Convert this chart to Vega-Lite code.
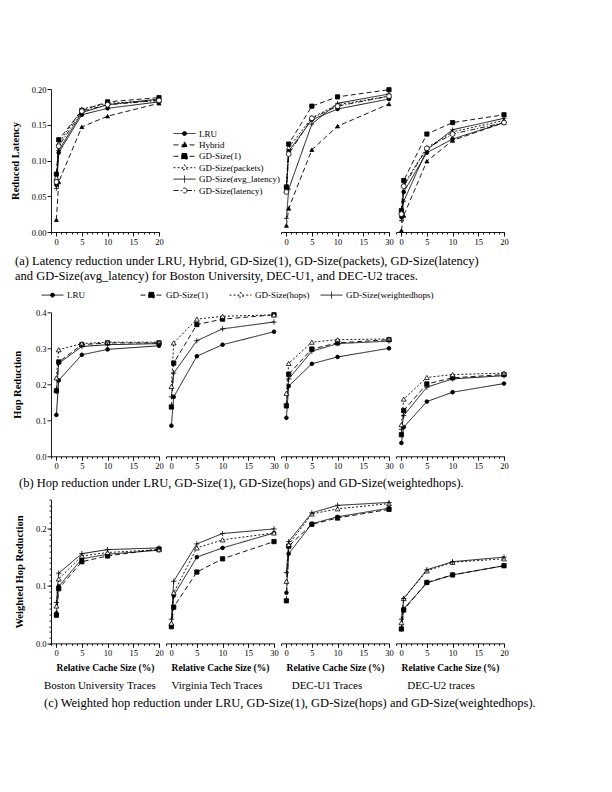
{
"$schema": "https://vega.github.io/schema/vega-lite/v6.json",
"background": "white",
"padding": {"left": 10, "top": 85, "right": 5, "bottom": 5},
"config": {
  "view": {"stroke": null},
  "font": "Liberation Serif",
  "axis": {"labelFont": "Liberation Serif", "labelFontSize": 8.5, "labelColor": "black", "titleFont": "Liberation Serif", "titleFontSize": 10.5, "titleFontWeight": "bold", "titleColor": "black", "domainColor": "black", "tickColor": "black", "domainWidth": 0.9, "tickWidth": 0.9, "labelPadding": 1, "grid": false, "labelFlush": false, "labelOverlap": false},
  "legend": {"labelFont": "Liberation Serif", "labelFontSize": 9, "labelColor": "black", "symbolStrokeWidth": 0.9, "symbolSize": 100, "labelOffset": 9, "padding": 0, "symbolOpacity": 1},
  "title": {"font": "Liberation Serif", "fontSize": 11, "fontWeight": "normal", "color": "black", "subtitleFont": "Liberation Serif", "subtitleFontSize": 12.5, "subtitleColor": "black"}
},
"datasets": {
"lat": [
{"trace":"BU","policy":"LRU","size":0.05,"value":0.066},{"trace":"BU","policy":"LRU","size":0.5,"value":0.111},{"trace":"BU","policy":"LRU","size":5,"value":0.164},{"trace":"BU","policy":"LRU","size":10,"value":0.173},{"trace":"BU","policy":"LRU","size":20,"value":0.182},
{"trace":"BU","policy":"Hybrid","size":0.05,"value":0.017},{"trace":"BU","policy":"Hybrid","size":0.5,"value":0.070},{"trace":"BU","policy":"Hybrid","size":5,"value":0.147},{"trace":"BU","policy":"Hybrid","size":10,"value":0.162},{"trace":"BU","policy":"Hybrid","size":20,"value":0.180},
{"trace":"BU","policy":"GD-Size(1)","size":0.05,"value":0.081},{"trace":"BU","policy":"GD-Size(1)","size":0.5,"value":0.129},{"trace":"BU","policy":"GD-Size(1)","size":5,"value":0.170},{"trace":"BU","policy":"GD-Size(1)","size":10,"value":0.182},{"trace":"BU","policy":"GD-Size(1)","size":20,"value":0.188},
{"trace":"BU","policy":"GD-Size(packets)","size":0.05,"value":0.076},{"trace":"BU","policy":"GD-Size(packets)","size":0.5,"value":0.124},{"trace":"BU","policy":"GD-Size(packets)","size":5,"value":0.172},{"trace":"BU","policy":"GD-Size(packets)","size":10,"value":0.180},{"trace":"BU","policy":"GD-Size(packets)","size":20,"value":0.184},
{"trace":"BU","policy":"GD-Size(avg_latency)","size":0.05,"value":0.061},{"trace":"BU","policy":"GD-Size(avg_latency)","size":0.5,"value":0.114},{"trace":"BU","policy":"GD-Size(avg_latency)","size":5,"value":0.167},{"trace":"BU","policy":"GD-Size(avg_latency)","size":10,"value":0.178},{"trace":"BU","policy":"GD-Size(avg_latency)","size":20,"value":0.186},
{"trace":"BU","policy":"GD-Size(latency)","size":0.05,"value":0.070},{"trace":"BU","policy":"GD-Size(latency)","size":0.5,"value":0.120},{"trace":"BU","policy":"GD-Size(latency)","size":5,"value":0.169},{"trace":"BU","policy":"GD-Size(latency)","size":10,"value":0.178},{"trace":"BU","policy":"GD-Size(latency)","size":20,"value":0.184},
{"trace":"U1","policy":"LRU","size":0.05,"value":0.061},{"trace":"U1","policy":"LRU","size":0.5,"value":0.113},{"trace":"U1","policy":"LRU","size":5,"value":0.157},{"trace":"U1","policy":"LRU","size":10,"value":0.172},{"trace":"U1","policy":"LRU","size":20,"value":0.186},
{"trace":"U1","policy":"Hybrid","size":0.05,"value":0.009},{"trace":"U1","policy":"Hybrid","size":0.5,"value":0.033},{"trace":"U1","policy":"Hybrid","size":5,"value":0.115},{"trace":"U1","policy":"Hybrid","size":10,"value":0.148},{"trace":"U1","policy":"Hybrid","size":20,"value":0.179},
{"trace":"U1","policy":"GD-Size(1)","size":0.05,"value":0.063},{"trace":"U1","policy":"GD-Size(1)","size":0.5,"value":0.123},{"trace":"U1","policy":"GD-Size(1)","size":5,"value":0.176},{"trace":"U1","policy":"GD-Size(1)","size":10,"value":0.189},{"trace":"U1","policy":"GD-Size(1)","size":20,"value":0.199},
{"trace":"U1","policy":"GD-Size(packets)","size":0.05,"value":0.058},{"trace":"U1","policy":"GD-Size(packets)","size":0.5,"value":0.118},{"trace":"U1","policy":"GD-Size(packets)","size":5,"value":0.160},{"trace":"U1","policy":"GD-Size(packets)","size":10,"value":0.178},{"trace":"U1","policy":"GD-Size(packets)","size":20,"value":0.190},
{"trace":"U1","policy":"GD-Size(avg_latency)","size":0.05,"value":0.019},{"trace":"U1","policy":"GD-Size(avg_latency)","size":0.5,"value":0.060},{"trace":"U1","policy":"GD-Size(avg_latency)","size":5,"value":0.151},{"trace":"U1","policy":"GD-Size(avg_latency)","size":10,"value":0.180},{"trace":"U1","policy":"GD-Size(avg_latency)","size":20,"value":0.193},
{"trace":"U1","policy":"GD-Size(latency)","size":0.05,"value":0.056},{"trace":"U1","policy":"GD-Size(latency)","size":0.5,"value":0.109},{"trace":"U1","policy":"GD-Size(latency)","size":5,"value":0.159},{"trace":"U1","policy":"GD-Size(latency)","size":10,"value":0.176},{"trace":"U1","policy":"GD-Size(latency)","size":20,"value":0.190},
{"trace":"U2","policy":"LRU","size":0.05,"value":0.021},{"trace":"U2","policy":"LRU","size":0.5,"value":0.056},{"trace":"U2","policy":"LRU","size":5,"value":0.111},{"trace":"U2","policy":"LRU","size":10,"value":0.130},{"trace":"U2","policy":"LRU","size":20,"value":0.153},
{"trace":"U2","policy":"Hybrid","size":0.05,"value":0.002},{"trace":"U2","policy":"Hybrid","size":0.5,"value":0.023},{"trace":"U2","policy":"Hybrid","size":5,"value":0.099},{"trace":"U2","policy":"Hybrid","size":10,"value":0.128},{"trace":"U2","policy":"Hybrid","size":20,"value":0.153},
{"trace":"U2","policy":"GD-Size(1)","size":0.05,"value":0.030},{"trace":"U2","policy":"GD-Size(1)","size":0.5,"value":0.072},{"trace":"U2","policy":"GD-Size(1)","size":5,"value":0.137},{"trace":"U2","policy":"GD-Size(1)","size":10,"value":0.153},{"trace":"U2","policy":"GD-Size(1)","size":20,"value":0.164},
{"trace":"U2","policy":"GD-Size(packets)","size":0.05,"value":0.028},{"trace":"U2","policy":"GD-Size(packets)","size":0.5,"value":0.066},{"trace":"U2","policy":"GD-Size(packets)","size":5,"value":0.118},{"trace":"U2","policy":"GD-Size(packets)","size":10,"value":0.140},{"trace":"U2","policy":"GD-Size(packets)","size":20,"value":0.156},
{"trace":"U2","policy":"GD-Size(avg_latency)","size":0.05,"value":0.016},{"trace":"U2","policy":"GD-Size(avg_latency)","size":0.5,"value":0.043},{"trace":"U2","policy":"GD-Size(avg_latency)","size":5,"value":0.115},{"trace":"U2","policy":"GD-Size(avg_latency)","size":10,"value":0.143},{"trace":"U2","policy":"GD-Size(avg_latency)","size":20,"value":0.159},
{"trace":"U2","policy":"GD-Size(latency)","size":0.05,"value":0.025},{"trace":"U2","policy":"GD-Size(latency)","size":0.5,"value":0.064},{"trace":"U2","policy":"GD-Size(latency)","size":5,"value":0.117},{"trace":"U2","policy":"GD-Size(latency)","size":10,"value":0.137},{"trace":"U2","policy":"GD-Size(latency)","size":20,"value":0.153}
],
"hop": [
{"trace":"BU","policy":"LRU","size":0.05,"value":0.115},{"trace":"BU","policy":"LRU","size":0.5,"value":0.211},{"trace":"BU","policy":"LRU","size":5,"value":0.282},{"trace":"BU","policy":"LRU","size":10,"value":0.297},{"trace":"BU","policy":"LRU","size":20,"value":0.307},
{"trace":"BU","policy":"GD-Size(1)","size":0.05,"value":0.182},{"trace":"BU","policy":"GD-Size(1)","size":0.5,"value":0.262},{"trace":"BU","policy":"GD-Size(1)","size":5,"value":0.310},{"trace":"BU","policy":"GD-Size(1)","size":10,"value":0.315},{"trace":"BU","policy":"GD-Size(1)","size":20,"value":0.315},
{"trace":"BU","policy":"GD-Size(hops)","size":0.05,"value":0.218},{"trace":"BU","policy":"GD-Size(hops)","size":0.5,"value":0.296},{"trace":"BU","policy":"GD-Size(hops)","size":5,"value":0.313},{"trace":"BU","policy":"GD-Size(hops)","size":10,"value":0.317},{"trace":"BU","policy":"GD-Size(hops)","size":20,"value":0.317},
{"trace":"BU","policy":"GD-Size(weightedhops)","size":0.05,"value":0.180},{"trace":"BU","policy":"GD-Size(weightedhops)","size":0.5,"value":0.258},{"trace":"BU","policy":"GD-Size(weightedhops)","size":5,"value":0.305},{"trace":"BU","policy":"GD-Size(weightedhops)","size":10,"value":0.310},{"trace":"BU","policy":"GD-Size(weightedhops)","size":20,"value":0.313},
{"trace":"VT","policy":"LRU","size":0.05,"value":0.085},{"trace":"VT","policy":"LRU","size":0.5,"value":0.165},{"trace":"VT","policy":"LRU","size":5,"value":0.278},{"trace":"VT","policy":"LRU","size":10,"value":0.310},{"trace":"VT","policy":"LRU","size":20,"value":0.346},
{"trace":"VT","policy":"GD-Size(1)","size":0.05,"value":0.137},{"trace":"VT","policy":"GD-Size(1)","size":0.5,"value":0.259},{"trace":"VT","policy":"GD-Size(1)","size":5,"value":0.366},{"trace":"VT","policy":"GD-Size(1)","size":10,"value":0.381},{"trace":"VT","policy":"GD-Size(1)","size":20,"value":0.393},
{"trace":"VT","policy":"GD-Size(hops)","size":0.05,"value":0.194},{"trace":"VT","policy":"GD-Size(hops)","size":0.5,"value":0.315},{"trace":"VT","policy":"GD-Size(hops)","size":5,"value":0.381},{"trace":"VT","policy":"GD-Size(hops)","size":10,"value":0.389},{"trace":"VT","policy":"GD-Size(hops)","size":20,"value":0.393},
{"trace":"VT","policy":"GD-Size(weightedhops)","size":0.05,"value":0.165},{"trace":"VT","policy":"GD-Size(weightedhops)","size":0.5,"value":0.231},{"trace":"VT","policy":"GD-Size(weightedhops)","size":5,"value":0.321},{"trace":"VT","policy":"GD-Size(weightedhops)","size":10,"value":0.354},{"trace":"VT","policy":"GD-Size(weightedhops)","size":20,"value":0.373},
{"trace":"U1","policy":"LRU","size":0.05,"value":0.107},{"trace":"U1","policy":"LRU","size":0.5,"value":0.195},{"trace":"U1","policy":"LRU","size":5,"value":0.257},{"trace":"U1","policy":"LRU","size":10,"value":0.276},{"trace":"U1","policy":"LRU","size":20,"value":0.300},
{"trace":"U1","policy":"GD-Size(1)","size":0.05,"value":0.140},{"trace":"U1","policy":"GD-Size(1)","size":0.5,"value":0.228},{"trace":"U1","policy":"GD-Size(1)","size":5,"value":0.298},{"trace":"U1","policy":"GD-Size(1)","size":10,"value":0.315},{"trace":"U1","policy":"GD-Size(1)","size":20,"value":0.324},
{"trace":"U1","policy":"GD-Size(hops)","size":0.05,"value":0.175},{"trace":"U1","policy":"GD-Size(hops)","size":0.5,"value":0.258},{"trace":"U1","policy":"GD-Size(hops)","size":5,"value":0.317},{"trace":"U1","policy":"GD-Size(hops)","size":10,"value":0.324},{"trace":"U1","policy":"GD-Size(hops)","size":20,"value":0.326},
{"trace":"U1","policy":"GD-Size(weightedhops)","size":0.05,"value":0.145},{"trace":"U1","policy":"GD-Size(weightedhops)","size":0.5,"value":0.215},{"trace":"U1","policy":"GD-Size(weightedhops)","size":5,"value":0.292},{"trace":"U1","policy":"GD-Size(weightedhops)","size":10,"value":0.313},{"trace":"U1","policy":"GD-Size(weightedhops)","size":20,"value":0.320},
{"trace":"U2","policy":"LRU","size":0.05,"value":0.037},{"trace":"U2","policy":"LRU","size":0.5,"value":0.081},{"trace":"U2","policy":"LRU","size":5,"value":0.152},{"trace":"U2","policy":"LRU","size":10,"value":0.178},{"trace":"U2","policy":"LRU","size":20,"value":0.202},
{"trace":"U2","policy":"GD-Size(1)","size":0.05,"value":0.060},{"trace":"U2","policy":"GD-Size(1)","size":0.5,"value":0.127},{"trace":"U2","policy":"GD-Size(1)","size":5,"value":0.201},{"trace":"U2","policy":"GD-Size(1)","size":10,"value":0.218},{"trace":"U2","policy":"GD-Size(1)","size":20,"value":0.227},
{"trace":"U2","policy":"GD-Size(hops)","size":0.05,"value":0.088},{"trace":"U2","policy":"GD-Size(hops)","size":0.5,"value":0.159},{"trace":"U2","policy":"GD-Size(hops)","size":5,"value":0.219},{"trace":"U2","policy":"GD-Size(hops)","size":10,"value":0.227},{"trace":"U2","policy":"GD-Size(hops)","size":20,"value":0.231},
{"trace":"U2","policy":"GD-Size(weightedhops)","size":0.05,"value":0.075},{"trace":"U2","policy":"GD-Size(weightedhops)","size":0.5,"value":0.113},{"trace":"U2","policy":"GD-Size(weightedhops)","size":5,"value":0.192},{"trace":"U2","policy":"GD-Size(weightedhops)","size":10,"value":0.215},{"trace":"U2","policy":"GD-Size(weightedhops)","size":20,"value":0.224}
],
"whop": [
{"trace":"BU","policy":"LRU","size":0.05,"value":0.052},{"trace":"BU","policy":"LRU","size":0.5,"value":0.099},{"trace":"BU","policy":"LRU","size":5,"value":0.147},{"trace":"BU","policy":"LRU","size":10,"value":0.155},{"trace":"BU","policy":"LRU","size":20,"value":0.162},
{"trace":"BU","policy":"GD-Size(1)","size":0.05,"value":0.049},{"trace":"BU","policy":"GD-Size(1)","size":0.5,"value":0.095},{"trace":"BU","policy":"GD-Size(1)","size":5,"value":0.142},{"trace":"BU","policy":"GD-Size(1)","size":10,"value":0.152},{"trace":"BU","policy":"GD-Size(1)","size":20,"value":0.164},
{"trace":"BU","policy":"GD-Size(hops)","size":0.05,"value":0.065},{"trace":"BU","policy":"GD-Size(hops)","size":0.5,"value":0.112},{"trace":"BU","policy":"GD-Size(hops)","size":5,"value":0.152},{"trace":"BU","policy":"GD-Size(hops)","size":10,"value":0.158},{"trace":"BU","policy":"GD-Size(hops)","size":20,"value":0.163},
{"trace":"BU","policy":"GD-Size(weightedhops)","size":0.05,"value":0.071},{"trace":"BU","policy":"GD-Size(weightedhops)","size":0.5,"value":0.122},{"trace":"BU","policy":"GD-Size(weightedhops)","size":5,"value":0.156},{"trace":"BU","policy":"GD-Size(weightedhops)","size":10,"value":0.163},{"trace":"BU","policy":"GD-Size(weightedhops)","size":20,"value":0.166},
{"trace":"VT","policy":"LRU","size":0.05,"value":0.032},{"trace":"VT","policy":"LRU","size":0.5,"value":0.083},{"trace":"VT","policy":"LRU","size":5,"value":0.150},{"trace":"VT","policy":"LRU","size":10,"value":0.166},{"trace":"VT","policy":"LRU","size":20,"value":0.192},
{"trace":"VT","policy":"GD-Size(1)","size":0.05,"value":0.029},{"trace":"VT","policy":"GD-Size(1)","size":0.5,"value":0.063},{"trace":"VT","policy":"GD-Size(1)","size":5,"value":0.124},{"trace":"VT","policy":"GD-Size(1)","size":10,"value":0.147},{"trace":"VT","policy":"GD-Size(1)","size":20,"value":0.177},
{"trace":"VT","policy":"GD-Size(hops)","size":0.05,"value":0.035},{"trace":"VT","policy":"GD-Size(hops)","size":0.5,"value":0.088},{"trace":"VT","policy":"GD-Size(hops)","size":5,"value":0.166},{"trace":"VT","policy":"GD-Size(hops)","size":10,"value":0.180},{"trace":"VT","policy":"GD-Size(hops)","size":20,"value":0.192},
{"trace":"VT","policy":"GD-Size(weightedhops)","size":0.05,"value":0.042},{"trace":"VT","policy":"GD-Size(weightedhops)","size":0.5,"value":0.108},{"trace":"VT","policy":"GD-Size(weightedhops)","size":5,"value":0.173},{"trace":"VT","policy":"GD-Size(weightedhops)","size":10,"value":0.191},{"trace":"VT","policy":"GD-Size(weightedhops)","size":20,"value":0.199},
{"trace":"U1","policy":"LRU","size":0.05,"value":0.088},{"trace":"U1","policy":"LRU","size":0.5,"value":0.156},{"trace":"U1","policy":"LRU","size":5,"value":0.208},{"trace":"U1","policy":"LRU","size":10,"value":0.220},{"trace":"U1","policy":"LRU","size":20,"value":0.235},
{"trace":"U1","policy":"GD-Size(1)","size":0.05,"value":0.074},{"trace":"U1","policy":"GD-Size(1)","size":0.5,"value":0.169},{"trace":"U1","policy":"GD-Size(1)","size":5,"value":0.207},{"trace":"U1","policy":"GD-Size(1)","size":10,"value":0.218},{"trace":"U1","policy":"GD-Size(1)","size":20,"value":0.233},
{"trace":"U1","policy":"GD-Size(hops)","size":0.05,"value":0.108},{"trace":"U1","policy":"GD-Size(hops)","size":0.5,"value":0.172},{"trace":"U1","policy":"GD-Size(hops)","size":5,"value":0.225},{"trace":"U1","policy":"GD-Size(hops)","size":10,"value":0.234},{"trace":"U1","policy":"GD-Size(hops)","size":20,"value":0.243},
{"trace":"U1","policy":"GD-Size(weightedhops)","size":0.05,"value":0.123},{"trace":"U1","policy":"GD-Size(weightedhops)","size":0.5,"value":0.177},{"trace":"U1","policy":"GD-Size(weightedhops)","size":5,"value":0.227},{"trace":"U1","policy":"GD-Size(weightedhops)","size":10,"value":0.240},{"trace":"U1","policy":"GD-Size(weightedhops)","size":20,"value":0.245},
{"trace":"U2","policy":"LRU","size":0.05,"value":0.025},{"trace":"U2","policy":"LRU","size":0.5,"value":0.060},{"trace":"U2","policy":"LRU","size":5,"value":0.105},{"trace":"U2","policy":"LRU","size":10,"value":0.119},{"trace":"U2","policy":"LRU","size":20,"value":0.135},
{"trace":"U2","policy":"GD-Size(1)","size":0.05,"value":0.025},{"trace":"U2","policy":"GD-Size(1)","size":0.5,"value":0.058},{"trace":"U2","policy":"GD-Size(1)","size":5,"value":0.106},{"trace":"U2","policy":"GD-Size(1)","size":10,"value":0.119},{"trace":"U2","policy":"GD-Size(1)","size":20,"value":0.135},
{"trace":"U2","policy":"GD-Size(hops)","size":0.05,"value":0.036},{"trace":"U2","policy":"GD-Size(hops)","size":0.5,"value":0.078},{"trace":"U2","policy":"GD-Size(hops)","size":5,"value":0.126},{"trace":"U2","policy":"GD-Size(hops)","size":10,"value":0.141},{"trace":"U2","policy":"GD-Size(hops)","size":20,"value":0.147},
{"trace":"U2","policy":"GD-Size(weightedhops)","size":0.05,"value":0.042},{"trace":"U2","policy":"GD-Size(weightedhops)","size":0.5,"value":0.078},{"trace":"U2","policy":"GD-Size(weightedhops)","size":5,"value":0.128},{"trace":"U2","policy":"GD-Size(weightedhops)","size":10,"value":0.142},{"trace":"U2","policy":"GD-Size(weightedhops)","size":20,"value":0.150}
]
},
"columns": 4,
"bounds": "flush",
"align": "each",
"spacing": {"row": 43.3, "column": 7},
"resolve": {"scale": {"x": "independent", "y": "independent", "shape": "independent", "fill": "independent", "stroke": "independent", "size": "independent", "strokeDash": "independent"}},
"concat": [
{"width":108,"height":143,"data":{"name":"lat"},"transform":[{"filter":"datum.trace == 'BU'"}],
 "title":{"text":["(a) Latency reduction under LRU, Hybrid, GD-Size(1), GD-Size(packets), GD-Size(latency)","and GD-Size(avg_latency) for Boston University, DEC-U1, and DEC-U2 traces."],"orient":"bottom","anchor":"start","frame":"group","dx":-36,"offset":9,"fontSize":12.5,"lineHeight":15},
 "layer":[
  {"mark":{"type":"line","color":"black","strokeWidth":0.9},
   "encoding":{
    "x":{"field":"size","type":"quantitative","scale":{"domain":[-1,20],"nice":false,"zero":false},"axis":{"orient":"bottom","values":[0,5,10,15,20],"tickSize":4,"title":null,"format":"d"}},
    "y":{"field":"value","type":"quantitative","scale":{"domain":[0,0.2],"nice":false,"zero":false},"axis":{"orient":"left","values":[0,0.05,0.1,0.15,0.2],"format":".2f","tickSize":4,"title":"Reduced Latency","titlePadding":11}},
    "strokeDash":{"field":"policy","type":"nominal","scale":{"domain":["LRU","Hybrid","GD-Size(1)","GD-Size(packets)","GD-Size(avg_latency)","GD-Size(latency)"],"range":[[1,0],[5,3],[5,3],[2,2],[1,0],[5,2,1,2]]},"legend":null}}},
  {"mark":{"type":"point","filled":true,"stroke":"black","strokeWidth":0.8,"opacity":1},
   "encoding":{
    "x":{"field":"size","type":"quantitative","scale":{"domain":[-1,20],"nice":false,"zero":false},"axis":{"orient":"bottom","values":[-1,0,1,2,3,4,5,6,7,8,9,10,11,12,13,14,15,16,17,18,19,20],"tickSize":2,"labels":false,"domain":false,"title":null}},
    "y":{"field":"value","type":"quantitative","scale":{"domain":[0,0.2],"nice":false,"zero":false},"axis":null},
    "shape":{"field":"policy","type":"nominal","scale":{"domain":["LRU","Hybrid","GD-Size(1)","GD-Size(packets)","GD-Size(avg_latency)","GD-Size(latency)"],"range":["circle","triangle-up","square","triangle-up","M-1,0H1M0,-1V1","circle"]},"legend":null},
    "fill":{"field":"policy","type":"nominal","scale":{"domain":["LRU","Hybrid","GD-Size(1)","GD-Size(packets)","GD-Size(avg_latency)","GD-Size(latency)"],"range":["black","black","black","white","black","white"]},"legend":null},
    "size":{"field":"policy","type":"ordinal","scale":{"domain":["LRU","Hybrid","GD-Size(1)","GD-Size(packets)","GD-Size(avg_latency)","GD-Size(latency)"],"range":[14,24,26,24,49,22]},"legend":null}}}
 ],
 "resolve":{"axis":{"x":"independent","y":"independent"},"scale":{"shape":"independent","fill":"independent","size":"independent","strokeDash":"independent"}}
},
{"width":108,"height":179.7,"data":{"name":"lat"},"transform":[{"filter":"false"}],
 "mark":{"type":"point","filled":true,"strokeWidth":0.9,"opacity":1},
 "encoding":{
  "shape":{"field":"policy","type":"nominal","scale":{"domain":["LRU","Hybrid","GD-Size(1)","GD-Size(packets)","GD-Size(avg_latency)","GD-Size(latency)"],"range":["M-2.2,0H2.2M0.4,0A0.4,0.4,0,1,1,-0.4,0A0.4,0.4,0,1,1,0.4,0Z","M-2.2,0H2.2M0,-0.6L0.55,0.4H-0.55Z","M-2.2,0H2.2M-0.55,-0.55H0.55V0.55H-0.55Z","M-2.2,0H-0.35M0.35,0H2.2M0,-0.6L0.55,0.4H-0.55Z","M-2.2,0H2.2M0,-0.7V0.7","M-2.2,0H-0.5M0.5,0H2.2M0.5,0A0.5,0.5,0,1,1,-0.5,0A0.5,0.5,0,1,1,0.5,0Z"]},"legend":{"title":null,"orient":"none","legendX":13,"legendY":39,"rowPadding":0.4}},
  "fill":{"field":"policy","type":"nominal","scale":{"domain":["LRU","Hybrid","GD-Size(1)","GD-Size(packets)","GD-Size(avg_latency)","GD-Size(latency)"],"range":["black","black","black","white","black","white"]},"legend":{"title":null,"orient":"none","legendX":13,"legendY":39,"rowPadding":0.4}},
  "stroke":{"field":"policy","type":"nominal","scale":{"domain":["LRU","Hybrid","GD-Size(1)","GD-Size(packets)","GD-Size(avg_latency)","GD-Size(latency)"],"range":["black","black","black","black","black","black"]},"legend":{"title":null,"orient":"none","legendX":13,"legendY":39,"rowPadding":0.4}},
  "strokeDash":{"field":"policy","type":"nominal","scale":{"domain":["LRU","Hybrid","GD-Size(1)","GD-Size(packets)","GD-Size(avg_latency)","GD-Size(latency)"],"range":[[1,0],[5,3],[5,3],[2,2],[1,0],[5,2,1,2]]},"legend":{"title":null,"orient":"none","legendX":13,"legendY":39,"rowPadding":0.4}}}
},
{"width":108,"height":143,"data":{"name":"lat"},"transform":[{"filter":"datum.trace == 'U1'"}],
 "layer":[
  {"mark":{"type":"line","color":"black","strokeWidth":0.9},
   "encoding":{
    "x":{"field":"size","type":"quantitative","scale":{"domain":[-1,20],"nice":false,"zero":false},"axis":{"orient":"bottom","values":[0,5,10,15,20],"tickSize":4,"title":null,"format":"d","labelExpr":"datum.value == 20 ? '30' : datum.label"}},
    "y":{"field":"value","type":"quantitative","scale":{"domain":[0,0.2],"nice":false,"zero":false},"axis":null},
    "strokeDash":{"field":"policy","type":"nominal","scale":{"domain":["LRU","Hybrid","GD-Size(1)","GD-Size(packets)","GD-Size(avg_latency)","GD-Size(latency)"],"range":[[1,0],[5,3],[5,3],[2,2],[1,0],[5,2,1,2]]},"legend":null}}},
  {"mark":{"type":"point","filled":true,"stroke":"black","strokeWidth":0.8,"opacity":1},
   "encoding":{
    "x":{"field":"size","type":"quantitative","scale":{"domain":[-1,20],"nice":false,"zero":false},"axis":{"orient":"bottom","values":[-1,0,1,2,3,4,5,6,7,8,9,10,11,12,13,14,15,16,17,18,19,20],"tickSize":2,"labels":false,"domain":false,"title":null}},
    "y":{"field":"value","type":"quantitative","scale":{"domain":[0,0.2],"nice":false,"zero":false},"axis":null},
    "shape":{"field":"policy","type":"nominal","scale":{"domain":["LRU","Hybrid","GD-Size(1)","GD-Size(packets)","GD-Size(avg_latency)","GD-Size(latency)"],"range":["circle","triangle-up","square","triangle-up","M-1,0H1M0,-1V1","circle"]},"legend":null},
    "fill":{"field":"policy","type":"nominal","scale":{"domain":["LRU","Hybrid","GD-Size(1)","GD-Size(packets)","GD-Size(avg_latency)","GD-Size(latency)"],"range":["black","black","black","white","black","white"]},"legend":null},
    "size":{"field":"policy","type":"ordinal","scale":{"domain":["LRU","Hybrid","GD-Size(1)","GD-Size(packets)","GD-Size(avg_latency)","GD-Size(latency)"],"range":[14,24,26,24,49,22]},"legend":null}}}
 ],
 "resolve":{"axis":{"x":"independent","y":"independent"},"scale":{"shape":"independent","fill":"independent","size":"independent","strokeDash":"independent"}}
},
{"width":108,"height":143,"data":{"name":"lat"},"transform":[{"filter":"datum.trace == 'U2'"}],
 "layer":[
  {"mark":{"type":"line","color":"black","strokeWidth":0.9},
   "encoding":{
    "x":{"field":"size","type":"quantitative","scale":{"domain":[-1,20],"nice":false,"zero":false},"axis":{"orient":"bottom","values":[0,5,10,15,20],"tickSize":4,"title":null,"format":"d"}},
    "y":{"field":"value","type":"quantitative","scale":{"domain":[0,0.2],"nice":false,"zero":false},"axis":null},
    "strokeDash":{"field":"policy","type":"nominal","scale":{"domain":["LRU","Hybrid","GD-Size(1)","GD-Size(packets)","GD-Size(avg_latency)","GD-Size(latency)"],"range":[[1,0],[5,3],[5,3],[2,2],[1,0],[5,2,1,2]]},"legend":null}}},
  {"mark":{"type":"point","filled":true,"stroke":"black","strokeWidth":0.8,"opacity":1},
   "encoding":{
    "x":{"field":"size","type":"quantitative","scale":{"domain":[-1,20],"nice":false,"zero":false},"axis":{"orient":"bottom","values":[-1,0,1,2,3,4,5,6,7,8,9,10,11,12,13,14,15,16,17,18,19,20],"tickSize":2,"labels":false,"domain":false,"title":null}},
    "y":{"field":"value","type":"quantitative","scale":{"domain":[0,0.2],"nice":false,"zero":false},"axis":null},
    "shape":{"field":"policy","type":"nominal","scale":{"domain":["LRU","Hybrid","GD-Size(1)","GD-Size(packets)","GD-Size(avg_latency)","GD-Size(latency)"],"range":["circle","triangle-up","square","triangle-up","M-1,0H1M0,-1V1","circle"]},"legend":null},
    "fill":{"field":"policy","type":"nominal","scale":{"domain":["LRU","Hybrid","GD-Size(1)","GD-Size(packets)","GD-Size(avg_latency)","GD-Size(latency)"],"range":["black","black","black","white","black","white"]},"legend":null},
    "size":{"field":"policy","type":"ordinal","scale":{"domain":["LRU","Hybrid","GD-Size(1)","GD-Size(packets)","GD-Size(avg_latency)","GD-Size(latency)"],"range":[14,24,26,24,49,22]},"legend":null}}}
 ],
 "resolve":{"axis":{"x":"independent","y":"independent"},"scale":{"shape":"independent","fill":"independent","size":"independent","strokeDash":"independent"}}
},
{"width":108,"height":144,"data":{"name":"hop"},"transform":[{"filter":"datum.trace == 'BU'"}],
 "title":{"text":"(b) Hop reduction under LRU, GD-Size(1), GD-Size(hops) and GD-Size(weightedhops).","orient":"bottom","anchor":"start","frame":"group","dx":-32,"offset":7,"fontSize":12.5},
 "layer":[
  {"mark":{"type":"line","color":"black","strokeWidth":0.9},
   "encoding":{
    "x":{"field":"size","type":"quantitative","scale":{"domain":[-1,20],"nice":false,"zero":false},"axis":{"orient":"bottom","values":[0,5,10,15,20],"tickSize":4,"title":null,"format":"d"}},
    "y":{"field":"value","type":"quantitative","scale":{"domain":[0,0.4],"nice":false,"zero":false},"axis":{"orient":"left","values":[0,0.1,0.2,0.3,0.4],"format":".1f","tickSize":4,"title":"Hop Reduction","titlePadding":13}},
    "strokeDash":{"field":"policy","type":"nominal","scale":{"domain":["LRU","GD-Size(1)","GD-Size(hops)","GD-Size(weightedhops)"],"range":[[1,0],[5,3],[2,2],[1,0]]},"legend":null}}},
  {"mark":{"type":"point","filled":true,"stroke":"black","strokeWidth":0.8,"opacity":1},
   "encoding":{
    "x":{"field":"size","type":"quantitative","scale":{"domain":[-1,20],"nice":false,"zero":false},"axis":{"orient":"bottom","values":[-1,0,1,2,3,4,5,6,7,8,9,10,11,12,13,14,15,16,17,18,19,20],"tickSize":2,"labels":false,"domain":false,"title":null}},
    "y":{"field":"value","type":"quantitative","scale":{"domain":[0,0.4],"nice":false,"zero":false},"axis":null},
    "shape":{"field":"policy","type":"nominal","scale":{"domain":["LRU","GD-Size(1)","GD-Size(hops)","GD-Size(weightedhops)"],"range":["circle","square","triangle-up","M-1,0H1M0,-1V1"]},"legend":null},
    "fill":{"field":"policy","type":"nominal","scale":{"domain":["LRU","GD-Size(1)","GD-Size(hops)","GD-Size(weightedhops)"],"range":["black","black","white","black"]},"legend":null},
    "size":{"field":"policy","type":"ordinal","scale":{"domain":["LRU","GD-Size(1)","GD-Size(hops)","GD-Size(weightedhops)"],"range":[14,28,24,49]},"legend":null}}},
  {"transform":[{"filter":"false"}],
   "mark":{"type":"point","filled":true,"strokeWidth":0.9,"opacity":1},
   "encoding":{
    "shape":{"field":"policy","type":"nominal","scale":{"domain":["LRU"],"range":["M-2.2,0H2.2M0.4,0A0.4,0.4,0,1,1,-0.4,0A0.4,0.4,0,1,1,0.4,0Z"]},"legend":{"title":null,"orient":"none","legendX":-4,"legendY":-22.7}},
    "fill":{"field":"policy","type":"nominal","scale":{"domain":["LRU"],"range":["black"]},"legend":{"title":null,"orient":"none","legendX":-4,"legendY":-22.7}},
    "stroke":{"field":"policy","type":"nominal","scale":{"domain":["LRU"],"range":["black"]},"legend":{"title":null,"orient":"none","legendX":-4,"legendY":-22.7}},
    "strokeDash":{"field":"policy","type":"nominal","scale":{"domain":["LRU"],"range":[[1,0]]},"legend":{"title":null,"orient":"none","legendX":-4,"legendY":-22.7}}}},
  {"transform":[{"filter":"false"}],
   "mark":{"type":"point","filled":true,"strokeWidth":0.9,"opacity":1},
   "encoding":{
    "shape":{"field":"policy","type":"nominal","scale":{"domain":["GD-Size(1)"],"range":["M-2.2,0H2.2M-0.55,-0.55H0.55V0.55H-0.55Z"]},"legend":{"title":null,"orient":"none","legendX":95,"legendY":-22.7}},
    "fill":{"field":"policy","type":"nominal","scale":{"domain":["GD-Size(1)"],"range":["black"]},"legend":{"title":null,"orient":"none","legendX":95,"legendY":-22.7}},
    "stroke":{"field":"policy","type":"nominal","scale":{"domain":["GD-Size(1)"],"range":["black"]},"legend":{"title":null,"orient":"none","legendX":95,"legendY":-22.7}},
    "strokeDash":{"field":"policy","type":"nominal","scale":{"domain":["GD-Size(1)"],"range":[[5,3]]},"legend":{"title":null,"orient":"none","legendX":95,"legendY":-22.7}}}},
  {"transform":[{"filter":"false"}],
   "mark":{"type":"point","filled":true,"strokeWidth":0.9,"opacity":1},
   "encoding":{
    "shape":{"field":"policy","type":"nominal","scale":{"domain":["GD-Size(hops)"],"range":["M-2.2,0H-0.35M0.35,0H2.2M0,-0.6L0.55,0.4H-0.55Z"]},"legend":{"title":null,"orient":"none","legendX":184,"legendY":-22.7}},
    "fill":{"field":"policy","type":"nominal","scale":{"domain":["GD-Size(hops)"],"range":["white"]},"legend":{"title":null,"orient":"none","legendX":184,"legendY":-22.7}},
    "stroke":{"field":"policy","type":"nominal","scale":{"domain":["GD-Size(hops)"],"range":["black"]},"legend":{"title":null,"orient":"none","legendX":184,"legendY":-22.7}},
    "strokeDash":{"field":"policy","type":"nominal","scale":{"domain":["GD-Size(hops)"],"range":[[2,2]]},"legend":{"title":null,"orient":"none","legendX":184,"legendY":-22.7}}}},
  {"transform":[{"filter":"false"}],
   "mark":{"type":"point","filled":true,"strokeWidth":0.9,"opacity":1},
   "encoding":{
    "shape":{"field":"policy","type":"nominal","scale":{"domain":["GD-Size(weightedhops)"],"range":["M-2.2,0H2.2M0,-0.7V0.7"]},"legend":{"title":null,"orient":"none","legendX":275,"legendY":-22.7}},
    "fill":{"field":"policy","type":"nominal","scale":{"domain":["GD-Size(weightedhops)"],"range":["black"]},"legend":{"title":null,"orient":"none","legendX":275,"legendY":-22.7}},
    "stroke":{"field":"policy","type":"nominal","scale":{"domain":["GD-Size(weightedhops)"],"range":["black"]},"legend":{"title":null,"orient":"none","legendX":275,"legendY":-22.7}},
    "strokeDash":{"field":"policy","type":"nominal","scale":{"domain":["GD-Size(weightedhops)"],"range":[[1,0]]},"legend":{"title":null,"orient":"none","legendX":275,"legendY":-22.7}}}}
 ],
 "resolve":{"axis":{"x":"independent","y":"independent"},"scale":{"shape":"independent","fill":"independent","stroke":"independent","size":"independent","strokeDash":"independent"}}
},
{"width":108,"height":144,"data":{"name":"hop"},"transform":[{"filter":"datum.trace == 'VT'"}],
 "layer":[
  {"mark":{"type":"line","color":"black","strokeWidth":0.9},
   "encoding":{
    "x":{"field":"size","type":"quantitative","scale":{"domain":[-1,20],"nice":false,"zero":false},"axis":{"orient":"bottom","values":[0,5,10,15,20],"tickSize":4,"title":null,"format":"d","labelExpr":"datum.value == 20 ? '30' : datum.label"}},
    "y":{"field":"value","type":"quantitative","scale":{"domain":[0,0.4],"nice":false,"zero":false},"axis":null},
    "strokeDash":{"field":"policy","type":"nominal","scale":{"domain":["LRU","GD-Size(1)","GD-Size(hops)","GD-Size(weightedhops)"],"range":[[1,0],[5,3],[2,2],[1,0]]},"legend":null}}},
  {"mark":{"type":"point","filled":true,"stroke":"black","strokeWidth":0.8,"opacity":1},
   "encoding":{
    "x":{"field":"size","type":"quantitative","scale":{"domain":[-1,20],"nice":false,"zero":false},"axis":{"orient":"bottom","values":[-1,0,1,2,3,4,5,6,7,8,9,10,11,12,13,14,15,16,17,18,19,20],"tickSize":2,"labels":false,"domain":false,"title":null}},
    "y":{"field":"value","type":"quantitative","scale":{"domain":[0,0.4],"nice":false,"zero":false},"axis":null},
    "shape":{"field":"policy","type":"nominal","scale":{"domain":["LRU","GD-Size(1)","GD-Size(hops)","GD-Size(weightedhops)"],"range":["circle","square","triangle-up","M-1,0H1M0,-1V1"]},"legend":null},
    "fill":{"field":"policy","type":"nominal","scale":{"domain":["LRU","GD-Size(1)","GD-Size(hops)","GD-Size(weightedhops)"],"range":["black","black","white","black"]},"legend":null},
    "size":{"field":"policy","type":"ordinal","scale":{"domain":["LRU","GD-Size(1)","GD-Size(hops)","GD-Size(weightedhops)"],"range":[14,28,24,49]},"legend":null}}}
 ],
 "resolve":{"axis":{"x":"independent","y":"independent"},"scale":{"shape":"independent","fill":"independent","size":"independent","strokeDash":"independent"}}
},
{"width":108,"height":144,"data":{"name":"hop"},"transform":[{"filter":"datum.trace == 'U1'"}],
 "layer":[
  {"mark":{"type":"line","color":"black","strokeWidth":0.9},
   "encoding":{
    "x":{"field":"size","type":"quantitative","scale":{"domain":[-1,20],"nice":false,"zero":false},"axis":{"orient":"bottom","values":[0,5,10,15,20],"tickSize":4,"title":null,"format":"d","labelExpr":"datum.value == 20 ? '30' : datum.label"}},
    "y":{"field":"value","type":"quantitative","scale":{"domain":[0,0.4],"nice":false,"zero":false},"axis":null},
    "strokeDash":{"field":"policy","type":"nominal","scale":{"domain":["LRU","GD-Size(1)","GD-Size(hops)","GD-Size(weightedhops)"],"range":[[1,0],[5,3],[2,2],[1,0]]},"legend":null}}},
  {"mark":{"type":"point","filled":true,"stroke":"black","strokeWidth":0.8,"opacity":1},
   "encoding":{
    "x":{"field":"size","type":"quantitative","scale":{"domain":[-1,20],"nice":false,"zero":false},"axis":{"orient":"bottom","values":[-1,0,1,2,3,4,5,6,7,8,9,10,11,12,13,14,15,16,17,18,19,20],"tickSize":2,"labels":false,"domain":false,"title":null}},
    "y":{"field":"value","type":"quantitative","scale":{"domain":[0,0.4],"nice":false,"zero":false},"axis":null},
    "shape":{"field":"policy","type":"nominal","scale":{"domain":["LRU","GD-Size(1)","GD-Size(hops)","GD-Size(weightedhops)"],"range":["circle","square","triangle-up","M-1,0H1M0,-1V1"]},"legend":null},
    "fill":{"field":"policy","type":"nominal","scale":{"domain":["LRU","GD-Size(1)","GD-Size(hops)","GD-Size(weightedhops)"],"range":["black","black","white","black"]},"legend":null},
    "size":{"field":"policy","type":"ordinal","scale":{"domain":["LRU","GD-Size(1)","GD-Size(hops)","GD-Size(weightedhops)"],"range":[14,28,24,49]},"legend":null}}}
 ],
 "resolve":{"axis":{"x":"independent","y":"independent"},"scale":{"shape":"independent","fill":"independent","size":"independent","strokeDash":"independent"}}
},
{"width":108,"height":144,"data":{"name":"hop"},"transform":[{"filter":"datum.trace == 'U2'"}],
 "layer":[
  {"mark":{"type":"line","color":"black","strokeWidth":0.9},
   "encoding":{
    "x":{"field":"size","type":"quantitative","scale":{"domain":[-1,20],"nice":false,"zero":false},"axis":{"orient":"bottom","values":[0,5,10,15,20],"tickSize":4,"title":null,"format":"d"}},
    "y":{"field":"value","type":"quantitative","scale":{"domain":[0,0.4],"nice":false,"zero":false},"axis":null},
    "strokeDash":{"field":"policy","type":"nominal","scale":{"domain":["LRU","GD-Size(1)","GD-Size(hops)","GD-Size(weightedhops)"],"range":[[1,0],[5,3],[2,2],[1,0]]},"legend":null}}},
  {"mark":{"type":"point","filled":true,"stroke":"black","strokeWidth":0.8,"opacity":1},
   "encoding":{
    "x":{"field":"size","type":"quantitative","scale":{"domain":[-1,20],"nice":false,"zero":false},"axis":{"orient":"bottom","values":[-1,0,1,2,3,4,5,6,7,8,9,10,11,12,13,14,15,16,17,18,19,20],"tickSize":2,"labels":false,"domain":false,"title":null}},
    "y":{"field":"value","type":"quantitative","scale":{"domain":[0,0.4],"nice":false,"zero":false},"axis":null},
    "shape":{"field":"policy","type":"nominal","scale":{"domain":["LRU","GD-Size(1)","GD-Size(hops)","GD-Size(weightedhops)"],"range":["circle","square","triangle-up","M-1,0H1M0,-1V1"]},"legend":null},
    "fill":{"field":"policy","type":"nominal","scale":{"domain":["LRU","GD-Size(1)","GD-Size(hops)","GD-Size(weightedhops)"],"range":["black","black","white","black"]},"legend":null},
    "size":{"field":"policy","type":"ordinal","scale":{"domain":["LRU","GD-Size(1)","GD-Size(hops)","GD-Size(weightedhops)"],"range":[14,28,24,49]},"legend":null}}}
 ],
 "resolve":{"axis":{"x":"independent","y":"independent"},"scale":{"shape":"independent","fill":"independent","size":"independent","strokeDash":"independent"}}
},
{"width":108,"height":143.75,"data":{"name":"whop"},"transform":[{"filter":"datum.trace == 'BU'"}],
 "title":{"text":"Boston University Traces","subtitle":"(c) Weighted hop reduction under LRU, GD-Size(1), GD-Size(hops) and GD-Size(weightedhops).","orient":"bottom","anchor":"start","frame":"group","dx":-7,"offset":8,"subtitlePadding":6},
 "layer":[
  {"mark":{"type":"line","color":"black","strokeWidth":0.9},
   "encoding":{
    "x":{"field":"size","type":"quantitative","scale":{"domain":[-1,20],"nice":false,"zero":false},"axis":{"orient":"bottom","values":[0,5,10,15,20],"tickSize":4,"format":"d","title":"Relative Cache Size (%)","titleFontSize":9.5,"titlePadding":6}},
    "y":{"field":"value","type":"quantitative","scale":{"domain":[0,0.25],"nice":false,"zero":false},"axis":{"orient":"left","values":[0,0.1,0.2],"format":".1f","tickSize":4,"title":"Weighted Hop Reduction","titlePadding":11}},
    "strokeDash":{"field":"policy","type":"nominal","scale":{"domain":["LRU","GD-Size(1)","GD-Size(hops)","GD-Size(weightedhops)"],"range":[[1,0],[5,3],[2,2],[1,0]]},"legend":null}}},
  {"mark":{"type":"point","filled":true,"stroke":"black","strokeWidth":0.8,"opacity":1},
   "encoding":{
    "x":{"field":"size","type":"quantitative","scale":{"domain":[-1,20],"nice":false,"zero":false},"axis":{"orient":"bottom","values":[-1,0,1,2,3,4,5,6,7,8,9,10,11,12,13,14,15,16,17,18,19,20],"tickSize":2,"labels":false,"domain":false,"title":null}},
    "y":{"field":"value","type":"quantitative","scale":{"domain":[0,0.25],"nice":false,"zero":false},"axis":{"orient":"left","values":[0,0.01,0.02,0.03,0.04,0.05,0.06,0.07,0.08,0.09,0.1,0.11,0.12,0.13,0.14,0.15,0.16,0.17,0.18,0.19,0.2,0.21,0.22,0.23,0.24,0.25],"tickSize":2,"labels":false,"domain":false,"title":null}},
    "shape":{"field":"policy","type":"nominal","scale":{"domain":["LRU","GD-Size(1)","GD-Size(hops)","GD-Size(weightedhops)"],"range":["circle","square","triangle-up","M-1,0H1M0,-1V1"]},"legend":null},
    "fill":{"field":"policy","type":"nominal","scale":{"domain":["LRU","GD-Size(1)","GD-Size(hops)","GD-Size(weightedhops)"],"range":["black","black","white","black"]},"legend":null},
    "size":{"field":"policy","type":"ordinal","scale":{"domain":["LRU","GD-Size(1)","GD-Size(hops)","GD-Size(weightedhops)"],"range":[14,28,24,49]},"legend":null}}}
 ],
 "resolve":{"axis":{"x":"independent","y":"independent"},"scale":{"shape":"independent","fill":"independent","size":"independent","strokeDash":"independent"}}
},
{"width":108,"height":143.75,"data":{"name":"whop"},"transform":[{"filter":"datum.trace == 'VT'"}],
 "title":{"text":"Virginia Tech Traces","orient":"bottom","anchor":"middle","frame":"group","dx":-3,"offset":8},
 "layer":[
  {"mark":{"type":"line","color":"black","strokeWidth":0.9},
   "encoding":{
    "x":{"field":"size","type":"quantitative","scale":{"domain":[-1,20],"nice":false,"zero":false},"axis":{"orient":"bottom","values":[0,5,10,15,20],"tickSize":4,"format":"d","labelExpr":"datum.value == 20 ? '30' : datum.label","title":"Relative Cache Size (%)","titleFontSize":9.5,"titlePadding":6}},
    "y":{"field":"value","type":"quantitative","scale":{"domain":[0,0.25],"nice":false,"zero":false},"axis":null},
    "strokeDash":{"field":"policy","type":"nominal","scale":{"domain":["LRU","GD-Size(1)","GD-Size(hops)","GD-Size(weightedhops)"],"range":[[1,0],[5,3],[2,2],[1,0]]},"legend":null}}},
  {"mark":{"type":"point","filled":true,"stroke":"black","strokeWidth":0.8,"opacity":1},
   "encoding":{
    "x":{"field":"size","type":"quantitative","scale":{"domain":[-1,20],"nice":false,"zero":false},"axis":{"orient":"bottom","values":[-1,0,1,2,3,4,5,6,7,8,9,10,11,12,13,14,15,16,17,18,19,20],"tickSize":2,"labels":false,"domain":false,"title":null}},
    "y":{"field":"value","type":"quantitative","scale":{"domain":[0,0.25],"nice":false,"zero":false},"axis":null},
    "shape":{"field":"policy","type":"nominal","scale":{"domain":["LRU","GD-Size(1)","GD-Size(hops)","GD-Size(weightedhops)"],"range":["circle","square","triangle-up","M-1,0H1M0,-1V1"]},"legend":null},
    "fill":{"field":"policy","type":"nominal","scale":{"domain":["LRU","GD-Size(1)","GD-Size(hops)","GD-Size(weightedhops)"],"range":["black","black","white","black"]},"legend":null},
    "size":{"field":"policy","type":"ordinal","scale":{"domain":["LRU","GD-Size(1)","GD-Size(hops)","GD-Size(weightedhops)"],"range":[14,28,24,49]},"legend":null}}}
 ],
 "resolve":{"axis":{"x":"independent","y":"independent"},"scale":{"shape":"independent","fill":"independent","size":"independent","strokeDash":"independent"}}
},
{"width":108,"height":143.75,"data":{"name":"whop"},"transform":[{"filter":"datum.trace == 'U1'"}],
 "title":{"text":"DEC-U1 Traces","orient":"bottom","anchor":"middle","frame":"group","dx":-8,"offset":8},
 "layer":[
  {"mark":{"type":"line","color":"black","strokeWidth":0.9},
   "encoding":{
    "x":{"field":"size","type":"quantitative","scale":{"domain":[-1,20],"nice":false,"zero":false},"axis":{"orient":"bottom","values":[0,5,10,15,20],"tickSize":4,"format":"d","labelExpr":"datum.value == 20 ? '30' : datum.label","title":"Relative Cache Size (%)","titleFontSize":9.5,"titlePadding":6}},
    "y":{"field":"value","type":"quantitative","scale":{"domain":[0,0.25],"nice":false,"zero":false},"axis":null},
    "strokeDash":{"field":"policy","type":"nominal","scale":{"domain":["LRU","GD-Size(1)","GD-Size(hops)","GD-Size(weightedhops)"],"range":[[1,0],[5,3],[2,2],[1,0]]},"legend":null}}},
  {"mark":{"type":"point","filled":true,"stroke":"black","strokeWidth":0.8,"opacity":1},
   "encoding":{
    "x":{"field":"size","type":"quantitative","scale":{"domain":[-1,20],"nice":false,"zero":false},"axis":{"orient":"bottom","values":[-1,0,1,2,3,4,5,6,7,8,9,10,11,12,13,14,15,16,17,18,19,20],"tickSize":2,"labels":false,"domain":false,"title":null}},
    "y":{"field":"value","type":"quantitative","scale":{"domain":[0,0.25],"nice":false,"zero":false},"axis":null},
    "shape":{"field":"policy","type":"nominal","scale":{"domain":["LRU","GD-Size(1)","GD-Size(hops)","GD-Size(weightedhops)"],"range":["circle","square","triangle-up","M-1,0H1M0,-1V1"]},"legend":null},
    "fill":{"field":"policy","type":"nominal","scale":{"domain":["LRU","GD-Size(1)","GD-Size(hops)","GD-Size(weightedhops)"],"range":["black","black","white","black"]},"legend":null},
    "size":{"field":"policy","type":"ordinal","scale":{"domain":["LRU","GD-Size(1)","GD-Size(hops)","GD-Size(weightedhops)"],"range":[14,28,24,49]},"legend":null}}}
 ],
 "resolve":{"axis":{"x":"independent","y":"independent"},"scale":{"shape":"independent","fill":"independent","size":"independent","strokeDash":"independent"}}
},
{"width":108,"height":143.75,"data":{"name":"whop"},"transform":[{"filter":"datum.trace == 'U2'"}],
 "title":{"text":"DEC-U2 traces","orient":"bottom","anchor":"middle","frame":"group","dx":-9,"offset":8},
 "layer":[
  {"mark":{"type":"line","color":"black","strokeWidth":0.9},
   "encoding":{
    "x":{"field":"size","type":"quantitative","scale":{"domain":[-1,20],"nice":false,"zero":false},"axis":{"orient":"bottom","values":[0,5,10,15,20],"tickSize":4,"format":"d","title":"Relative Cache Size (%)","titleFontSize":9.5,"titlePadding":6}},
    "y":{"field":"value","type":"quantitative","scale":{"domain":[0,0.25],"nice":false,"zero":false},"axis":null},
    "strokeDash":{"field":"policy","type":"nominal","scale":{"domain":["LRU","GD-Size(1)","GD-Size(hops)","GD-Size(weightedhops)"],"range":[[1,0],[5,3],[2,2],[1,0]]},"legend":null}}},
  {"mark":{"type":"point","filled":true,"stroke":"black","strokeWidth":0.8,"opacity":1},
   "encoding":{
    "x":{"field":"size","type":"quantitative","scale":{"domain":[-1,20],"nice":false,"zero":false},"axis":{"orient":"bottom","values":[-1,0,1,2,3,4,5,6,7,8,9,10,11,12,13,14,15,16,17,18,19,20],"tickSize":2,"labels":false,"domain":false,"title":null}},
    "y":{"field":"value","type":"quantitative","scale":{"domain":[0,0.25],"nice":false,"zero":false},"axis":null},
    "shape":{"field":"policy","type":"nominal","scale":{"domain":["LRU","GD-Size(1)","GD-Size(hops)","GD-Size(weightedhops)"],"range":["circle","square","triangle-up","M-1,0H1M0,-1V1"]},"legend":null},
    "fill":{"field":"policy","type":"nominal","scale":{"domain":["LRU","GD-Size(1)","GD-Size(hops)","GD-Size(weightedhops)"],"range":["black","black","white","black"]},"legend":null},
    "size":{"field":"policy","type":"ordinal","scale":{"domain":["LRU","GD-Size(1)","GD-Size(hops)","GD-Size(weightedhops)"],"range":[14,28,24,49]},"legend":null}}}
 ],
 "resolve":{"axis":{"x":"independent","y":"independent"},"scale":{"shape":"independent","fill":"independent","size":"independent","strokeDash":"independent"}}
}
]
}
